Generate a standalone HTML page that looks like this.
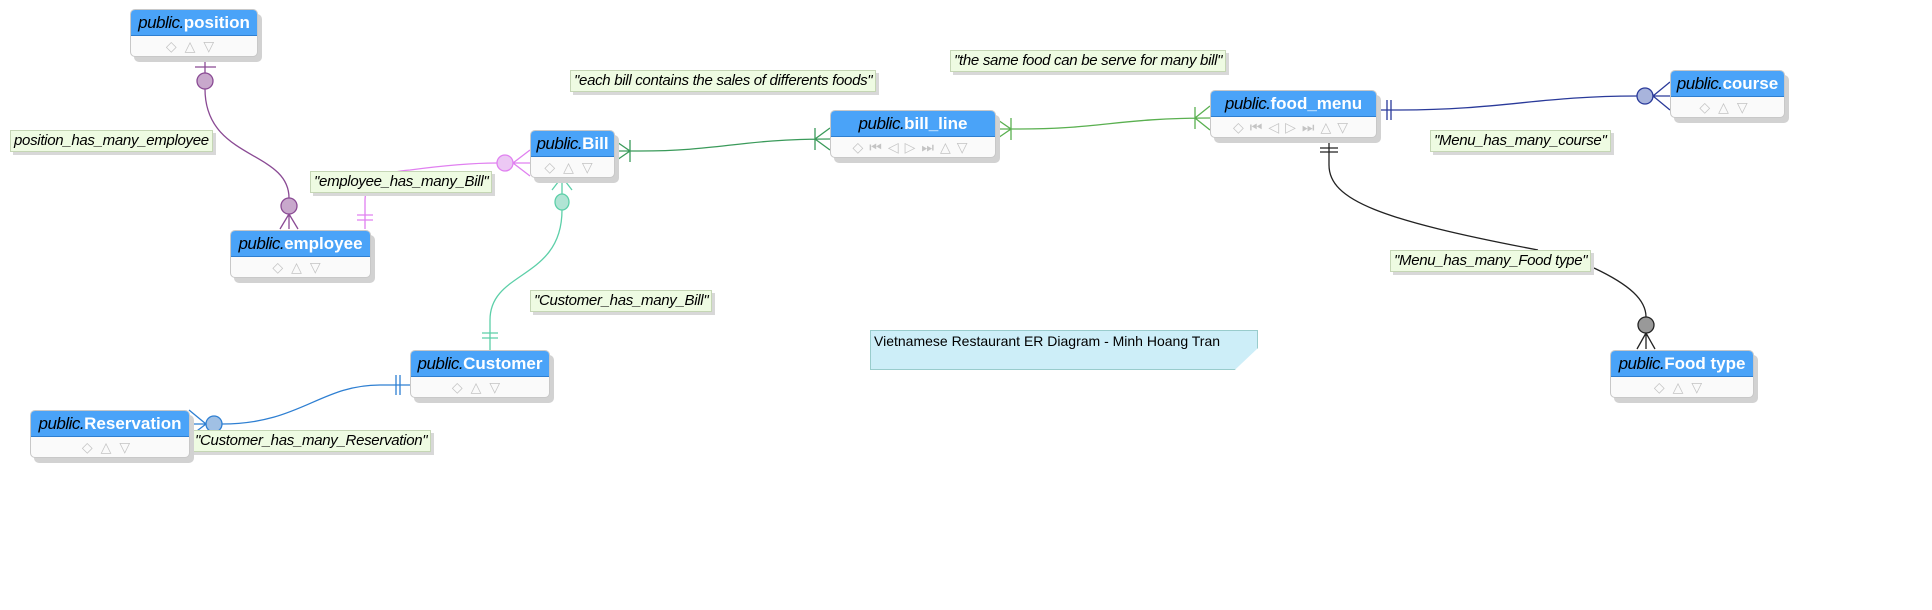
<!DOCTYPE html>
<html><head><meta charset="utf-8"><style>
body{margin:0;width:1932px;height:610px;background:#fff;position:relative;overflow:hidden;font-family:"Liberation Sans",sans-serif}
.t{position:absolute;background:#fafafa;border:1px solid #c8c8c8;border-radius:5px;box-shadow:4px 5px 0 #d2d2d2}
.t .h{background:#4aa3f8;border-bottom:1px solid #2f7fd0;border-radius:4px 4px 0 0;color:#fff;font-weight:bold;font-size:17px;text-align:center;white-space:nowrap;line-height:25px}
.t .h i{color:#000;font-weight:normal;letter-spacing:-0.5px}
.t .b{color:#c4c4c4;font-size:14px;text-align:center;letter-spacing:8px;line-height:20px}
.l{position:absolute;background:#eefbe2;border:1px solid #c5d6b5;box-shadow:3px 3px 0 #d8d8d8;font-style:italic;font-size:15px;line-height:20px;padding:0 3px;white-space:nowrap;letter-spacing:-0.3px}
svg{position:absolute;left:0;top:0}
</style></head><body>
<svg width="1932" height="610" fill="none" stroke-width="1.3">
<g stroke="#8a4a94"><path d="M205 57 V74 M195 67 H216 M205 89 C205 160 289 150 289 198 M289 214 L280 229 M289 214 V229 M289 214 L298 229"/><ellipse cx="205" cy="81" rx="8" ry="8" fill="#c8a8cc"/><ellipse cx="289" cy="206" rx="8" ry="8" fill="#c8a8cc"/></g>
<g stroke="#e080f0"><path d="M365 229 V200 C365 185 380 172 410 170 C440 166 470 163 497 163 M513 163 L530 150 M513 163 H530 M513 163 L530 176 M357 215 H373 M357 220 H373"/><ellipse cx="505" cy="163" rx="8" ry="8" fill="#ecc8f4"/></g>
<g stroke="#5ccfa8"><path d="M562 177 L552 190 M562 177 V194 M562 177 L572 190 M562 210 C562 280 490 270 490 320 V350 M482 333 H498 M482 338 H498"/><ellipse cx="562" cy="202" rx="7" ry="8" fill="#b0e4d4"/></g>
<g stroke="#2e7fd2"><path d="M410 385 H380 C320 385 300 424 222 424 M396 375 V395 M400 375 V395 M206 424 L189 410 M206 424 H189 M206 424 L189 437"/><ellipse cx="214" cy="424" rx="8" ry="8" fill="#a0c0e4"/></g>
<g stroke="#3a9a5a"><path d="M614 151 H640 C720 151 740 139 830 139 M630 140 V162 M614 140 L630 151 L614 162 M815 128 V150 M830 128 L815 139 L830 150"/></g>
<g stroke="#5ab050"><path d="M995 129 H1020 C1100 129 1120 118 1210 118 M1011 118 V140 M995 118 L1011 129 L995 140 M1195 107 V129 M1210 106 L1195 118 L1210 130"/></g>
<g stroke="#2a3a9a"><path d="M1376 110 H1400 C1500 110 1540 96 1637 96 M1387 100 V120 M1391 100 V120 M1653 96 L1670 82 M1653 96 H1670 M1653 96 L1670 110"/><ellipse cx="1645" cy="96" rx="8" ry="8" fill="#a8b4dc"/></g>
<g stroke="#222"><path d="M1329 140 V165 C1329 200 1380 220 1538 250 M1320 148 H1338 M1320 152 H1338 M1594 268 C1630 285 1646 300 1646 317 M1646 333 L1637 349 M1646 333 V349 M1646 333 L1655 349"/><ellipse cx="1646" cy="325" rx="8" ry="8" fill="#999"/></g>
</svg>

<div class="l" style="left:10px;top:130px">position_has_many_employee</div>
<div class="l" style="left:310px;top:171px">"employee_has_many_Bill"</div>
<div class="l" style="left:570px;top:70px">"each bill contains the sales of differents foods"</div>
<div class="l" style="left:950px;top:50px">"the same food can be serve for many bill"</div>
<div class="l" style="left:530px;top:290px">"Customer_has_many_Bill"</div>
<div class="l" style="left:191px;top:430px">"Customer_has_many_Reservation"</div>
<div class="l" style="left:1430px;top:130px">"Menu_has_many_course"</div>
<div class="l" style="left:1390px;top:250px">"Menu_has_many_Food type"</div>

<div style="position:absolute;left:870px;top:330px;width:388px;height:40px;background:#cdeef8;border:1px solid #9cc;box-shadow:3px 3px 0 #d8d8d8;font-size:14px;line-height:20px;padding-left:3px;box-sizing:border-box;clip-path:polygon(0 0,100% 0,100% 45%,94% 100%,0 100%)">Vietnamese Restaurant ER Diagram - Minh Hoang Tran</div>

<div class="t" style="left:130px;top:9px;width:126px"><div class="h"><i>public.</i>position</div><div class="b">◇△▽</div></div>
<div class="t" style="left:230px;top:230px;width:139px"><div class="h"><i>public.</i>employee</div><div class="b">◇△▽</div></div>
<div class="t" style="left:530px;top:130px;width:83px"><div class="h"><i>public.</i>Bill</div><div class="b">◇△▽</div></div>
<div class="t" style="left:410px;top:350px;width:138px"><div class="h"><i>public.</i>Customer</div><div class="b">◇△▽</div></div>
<div class="t" style="left:30px;top:410px;width:158px"><div class="h"><i>public.</i>Reservation</div><div class="b">◇△▽</div></div>
<div class="t" style="left:830px;top:110px;width:164px"><div class="h"><i>public.</i>bill_line</div><div class="b" style="letter-spacing:6px">◇⏮◁▷⏭△▽</div></div>
<div class="t" style="left:1210px;top:90px;width:165px"><div class="h"><i>public.</i>food_menu</div><div class="b" style="letter-spacing:6px">◇⏮◁▷⏭△▽</div></div>
<div class="t" style="left:1670px;top:70px;width:113px"><div class="h"><i>public.</i>course</div><div class="b">◇△▽</div></div>
<div class="t" style="left:1610px;top:350px;width:142px"><div class="h"><i>public.</i>Food type</div><div class="b">◇△▽</div></div>
</body></html>
